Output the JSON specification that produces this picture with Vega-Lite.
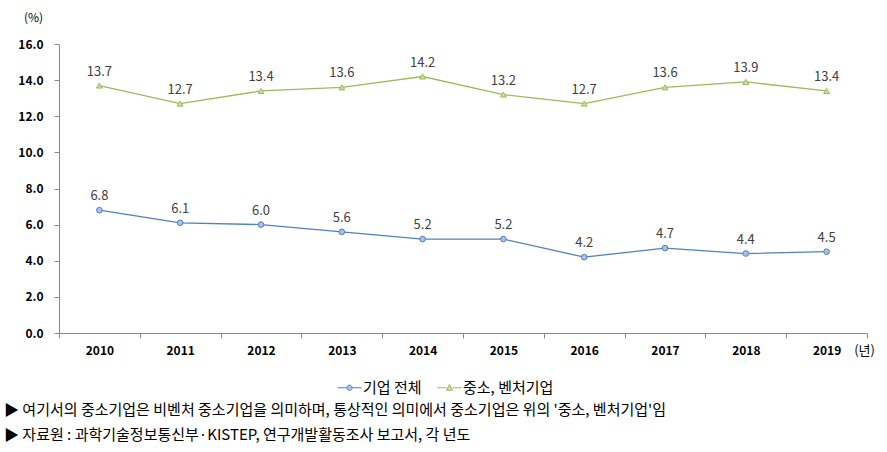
{
  "$schema": "https://vega.github.io/schema/vega-lite/v6.json",
  "width": 808,
  "height": 289,
  "autosize": "none",
  "padding": {"left": 59, "top": 44, "right": 20, "bottom": 119},
  "background": "white",
  "config": {
    "font": "Noto Sans CJK KR",
    "view": {"stroke": null}
  },
  "title": {
    "text": ["▶ 여기서의 중소기업은 비벤처 중소기업을 의미하며, 통상적인 의미에서 중소기업은 위의 '중소, 벤처기업'임", "▶ 자료원 : 과학기술정보통신부·KISTEP, 연구개발활동조사 보고서, 각 년도"],
    "orient": "bottom",
    "anchor": "start",
    "frame": "group",
    "dx": -55,
    "offset": 7,
    "fontSize": 15,
    "fontWeight": "normal",
    "lineHeight": 25,
    "color": "#000000"
  },
  "data": {
    "values": [
      {"year": "2010", "series": "기업 전체", "value": 6.8},
      {"year": "2011", "series": "기업 전체", "value": 6.1},
      {"year": "2012", "series": "기업 전체", "value": 6.0},
      {"year": "2013", "series": "기업 전체", "value": 5.6},
      {"year": "2014", "series": "기업 전체", "value": 5.2},
      {"year": "2015", "series": "기업 전체", "value": 5.2},
      {"year": "2016", "series": "기업 전체", "value": 4.2},
      {"year": "2017", "series": "기업 전체", "value": 4.7},
      {"year": "2018", "series": "기업 전체", "value": 4.4},
      {"year": "2019", "series": "기업 전체", "value": 4.5},
      {"year": "2010", "series": "중소, 벤처기업", "value": 13.7},
      {"year": "2011", "series": "중소, 벤처기업", "value": 12.7},
      {"year": "2012", "series": "중소, 벤처기업", "value": 13.4},
      {"year": "2013", "series": "중소, 벤처기업", "value": 13.6},
      {"year": "2014", "series": "중소, 벤처기업", "value": 14.2},
      {"year": "2015", "series": "중소, 벤처기업", "value": 13.2},
      {"year": "2016", "series": "중소, 벤처기업", "value": 12.7},
      {"year": "2017", "series": "중소, 벤처기업", "value": 13.6},
      {"year": "2018", "series": "중소, 벤처기업", "value": 13.9},
      {"year": "2019", "series": "중소, 벤처기업", "value": 13.4}
    ]
  },
  "encoding": {
    "x": {
      "field": "year",
      "type": "ordinal",
      "bandPosition": 0.5,
      "scale": {"type": "band", "paddingInner": 0, "paddingOuter": 0},
      "axis": {
        "title": "(년)",
        "titleAngle": 0,
        "titleX": 805,
        "titleY": 17,
        "titleAlign": "center",
        "titleBaseline": "middle",
        "titleFontSize": 13,
        "titleFontWeight": "normal",
        "titleColor": "#000000",
        "labelAngle": 0,
        "labelFontSize": 12,
        "labelFontWeight": "bold",
        "labelColor": "#000000",
        "labelPadding": 7,
        "domainColor": "#888888",
        "tickColor": "#888888",
        "tickSize": 5,
        "tickBand": "extent",
        "grid": false
      }
    },
    "y": {
      "field": "value",
      "type": "quantitative",
      "scale": {"domain": [0, 16]},
      "axis": {
        "values": [0, 2, 4, 6, 8, 10, 12, 14, 16],
        "format": ".1f",
        "title": "(%)",
        "titleAngle": 0,
        "titleX": -26,
        "titleY": -27,
        "titleAlign": "center",
        "titleBaseline": "middle",
        "titleFontSize": 12,
        "titleFontWeight": "normal",
        "titleColor": "#000000",
        "labelFontSize": 12,
        "labelFontWeight": "bold",
        "labelColor": "#000000",
        "labelPadding": 11,
        "domainColor": "#888888",
        "tickColor": "#888888",
        "tickSize": 5,
        "grid": false
      }
    }
  },
  "layer": [
    {
      "mark": {"type": "line", "strokeWidth": 1.3},
      "encoding": {
        "color": {
          "field": "series",
          "type": "nominal",
          "scale": {"domain": ["기업 전체", "중소, 벤처기업"], "range": ["#4F81BD", "#9BBB59"]},
          "legend": {
            "title": null,
            "orient": "none",
            "direction": "horizontal",
            "legendX": 278,
            "legendY": 331,
            "labelFontSize": 15,
            "labelColor": "#000000",
            "labelOffset": 1,
            "symbolSize": 576,
            "symbolStrokeWidth": 1,
            "columnPadding": 13,
            "encode": {
              "symbols": {
                "update": {
                  "shape": {"signal": "datum.value === '기업 전체' ? 'M-1,0H-0.22M0.22,0H1M-0.22,0A0.22,0.22 0 1,0 0.22,0A0.22,0.22 0 1,0 -0.22,0Z' : 'M-1,0H-0.26M0.26,0H1M0,-0.26L0.26,0.2H-0.26Z'"},
                  "fill": {"signal": "datum.value === '기업 전체' ? '#A9C1E4' : '#CCDDA5'"},
                  "stroke": {"signal": "datum.value === '기업 전체' ? '#4F81BD' : '#9BBB59'"},
                  "strokeWidth": {"value": 1},
                  "opacity": {"value": 1}
                }
              }
            }
          }
        }
      }
    },
    {
      "transform": [{"filter": "datum.series === '기업 전체'"}],
      "mark": {"type": "point", "shape": "circle", "filled": true, "size": 32, "strokeWidth": 1, "fill": "#A9C1E4", "stroke": "#4F81BD", "opacity": 1}
    },
    {
      "transform": [{"filter": "datum.series === '중소, 벤처기업'"}],
      "mark": {"type": "point", "shape": "triangle-up", "filled": true, "size": 34, "strokeWidth": 1, "fill": "#CCDDA5", "stroke": "#9BBB59", "opacity": 1}
    },
    {
      "mark": {"type": "text", "baseline": "bottom", "dy": -7, "fontSize": 13, "color": "#404040"},
      "encoding": {
        "text": {"field": "value", "type": "quantitative", "format": ".1f"}
      }
    }
  ]
}
